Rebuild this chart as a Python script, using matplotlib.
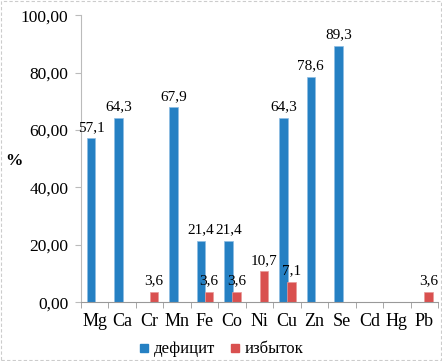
import matplotlib
matplotlib.use("Agg")
import matplotlib.pyplot as plt
from matplotlib.patches import Rectangle
from matplotlib.lines import Line2D
import numpy as np

categories = ["Mg", "Ca", "Cr", "Mn", "Fe", "Co", "Ni", "Cu", "Zn", "Se", "Cd", "Hg", "Pb"]
deficit = [57.1, 64.3, 0, 67.9, 21.4, 21.4, 0, 64.3, 78.6, 89.3, 0, 0, 0]
excess = [0, 0, 3.6, 0, 3.6, 3.6, 10.7, 7.1, 0, 0, 0, 0, 3.6]
yticks = [0, 20, 40, 60, 80, 100]

plt.rcParams['font.family'] = ['Liberation Serif', 'DejaVu Serif']

fig = plt.figure(figsize=(4.42, 3.61), dpi=100)
ax = fig.add_axes([0.183, 0.163, 0.808, 0.795])

x = np.arange(len(categories))
w = 0.31
blue = "#2580C3"
red = "#D9504F"
ax.bar(x - 0.13, deficit, w, color=blue, edgecolor="#8DBDE3", linewidth=0.5)
ax.bar(x + 0.16, excess, w, color=red, edgecolor="#E89A99", linewidth=0.5)

fmt = lambda v: f"{v:.1f}".replace(".", ",")
for xi, v in zip(x, deficit):
    if v > 0:
        ax.text(xi - 0.13, v + 1.5, fmt(v), ha="center", va="bottom", fontsize=11)
for xi, v in zip(x, excess):
    if v > 0:
        ax.text(xi + 0.16, v + 1.5, fmt(v), ha="center", va="bottom", fontsize=11)

ax.set_xlim(-0.5, len(categories) - 0.5)
ax.set_ylim(0, 100)
ax.set_yticks(yticks)
ax.set_yticklabels([f"{t:.2f}".replace(".", ",") for t in yticks], fontsize=12.5)
ax.set_xticks(x)
ax.set_xticklabels(categories, fontsize=13)
ax.set_xticks(np.arange(len(categories) + 1) - 0.5, minor=True)
ax.tick_params(axis="x", which="major", length=0, pad=8)
ax.tick_params(axis="x", which="minor", length=4, color="#999999")
ax.tick_params(axis="y", length=4, color="#bbbbbb", pad=5)

for s in ["top", "right"]:
    ax.spines[s].set_visible(False)
ax.spines["left"].set_color("#bbbbbb")
ax.spines["left"].set_linestyle((0, (2, 1)))
ax.spines["left"].set_linewidth(0.8)
ax.spines["bottom"].set_color("#999999")
ax.spines["bottom"].set_linewidth(0.8)

fig.text(0.012, 0.553, "%", fontsize=12.5, fontweight="bold", ha="left", va="center")

handles = [Line2D([], [], marker="s", linestyle="none", color=blue, markersize=6),
           Line2D([], [], marker="s", linestyle="none", color=red, markersize=6)]
fig.legend(handles, ["дефицит", "избыток"], loc="center", bbox_to_anchor=(0.5, 0.032),
           ncol=2, frameon=False, fontsize=12, handlelength=0.6, handletextpad=0.3,
           columnspacing=0.9)

fig.patches.append(Rectangle((0.002, 0.002), 0.996, 0.996, transform=fig.transFigure,
                             fill=False, edgecolor="#cccccc", linestyle=(0, (3, 2)), linewidth=0.8))

fig.savefig("out.png", dpi=100)
